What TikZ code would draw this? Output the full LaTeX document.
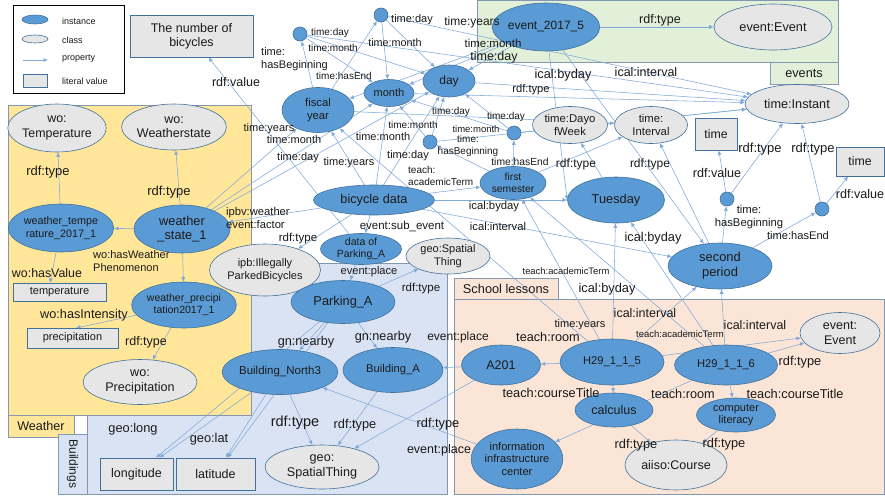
\documentclass[tikz,border=0pt]{standalone}
\usepackage{fontspec}
\setmainfont{Liberation Sans}
\usetikzlibrary{arrows.meta,shapes.geometric}
\definecolor{cInst}{HTML}{5B9BD5}
\definecolor{cInstB}{HTML}{41719C}
\definecolor{cCls}{HTML}{E7E6E6}
\definecolor{cEdge}{HTML}{7FA9DA}
\definecolor{cYel}{HTML}{FFE699}
\definecolor{cBlu}{HTML}{DAE3F3}
\definecolor{cPea}{HTML}{FBE5D6}
\definecolor{cGrn}{HTML}{E2F0D9}
\definecolor{cReg}{HTML}{8497B0}
\definecolor{cTxt}{HTML}{1A1A1A}
\newcommand{\fsz}[1]{\fontsize{#1}{#1}\selectfont\setlength{\baselineskip}{1.15\baselineskip}}
\pgfdeclarelayer{bg}
\pgfdeclarelayer{edges}
\pgfsetlayers{bg,edges,main}
\tikzset{
  inst/.style n args={3}{ellipse, draw=cInstB, fill=cInst, line width=0.6pt, minimum width=#1pt, minimum height=#2pt, inner sep=0pt, align=center, font=\fsz{#3}, text=cTxt},
  cls/.style n args={3}{ellipse, draw=cInstB, fill=cCls, line width=0.6pt, minimum width=#1pt, minimum height=#2pt, inner sep=0pt, align=center, font=\fsz{#3}, text=cTxt},
  lit/.style n args={3}{rectangle, draw=cInstB, fill=cCls, line width=0.6pt, minimum width=#1pt, minimum height=#2pt, inner sep=0pt, align=center, font=\fsz{#3}, text=cTxt},
  dot/.style={circle, draw=cInstB, fill=cInst, line width=0.6pt, minimum size=14pt, inner sep=0pt},
  lab/.style={font=\fsz{#1}, inner sep=0pt, align=center, text=cTxt},
  labl/.style={font=\fsz{#1}, inner sep=0pt, align=left, text=cTxt, anchor=west},
  ed/.style={draw=cEdge, line width=0.55pt, -{Latex[length=4.5pt,width=4pt]}},
  region/.style={draw=cReg, line width=0.8pt},
}
\begin{document}
\begin{tikzpicture}[x=1pt,y=-1pt]
\useasboundingbox (0,0) rectangle (885,498);
\begin{pgfonlayer}{bg}
\fill[white] (0,0) rectangle (885,498);
% regions
\draw[region, fill=cBlu] (87,263) rectangle (447,494);
\draw[region, fill=cYel] (8,105) rectangle (251,415);
\draw[region, fill=cYel] (8,415) rectangle (74,437);
\draw[region, fill=cBlu] (58,434) rectangle (87,494);
\draw[region, fill=cPea] (454,299) rectangle (884,494);
\draw[region, fill=cPea] (454,278) rectangle (558,299);
\draw[region, fill=cGrn] (477,0.5) rectangle (838,62);
\draw[region, fill=cGrn] (770,62) rectangle (838,84);
% legend box
\node[draw=black, line width=0.9pt, fill=white, minimum width=111pt, minimum height=88pt, inner sep=0pt] (legend) at (68.5,49) {};
\end{pgfonlayer}
\node[lab=12.6] (tWeather) at (41,426) {Weather};
\node[lab=12, rotate=-90] (tBuild) at (72.5,464) {Buildings};
\node[lab=12.8] (tSchool) at (506,288.5) {School lessons};
\node[lab=12.7] (tEvents) at (804,73) {events};
% legend
\node[inst={26}{9}{9}] (lgI) at (35,19.5) {};
\node[cls={26}{8}{9}] (lgC) at (35,39) {};
\coordinate (lgA1) at (23,60);
\coordinate (lgA2) at (48,60);
\node[lit={24}{13}{9}] (lgL) at (35,80.5) {};
\node[lab=9, anchor=west] (lgt1) at (62,21) {instance};
\node[lab=9, anchor=west] (lgt2) at (62,40) {class};
\node[lab=9, anchor=west] (lgt3) at (62,59) {property};
\node[lab=9, anchor=west] (lgt4) at (62,81) {literal value};
% nodes
\node[lit={123}{42}{12.5}] (nob) at (191.5,36) {The number of\\bicycles};
\node[cls={98}{48}{12.4}] (woT) at (57,128) {wo:\\Temperature};
\node[cls={94}{46}{12.5}] (woW) at (174,127) {wo:\\Weatherstate};
\node[inst={96}{48}{10.8}] (wt) at (61,228) {weather\_tempe\\rature\_2017\_1};
\node[inst={96}{48}{12.8}] (ws) at (182,229) {weather\\\_state\_1};
\node[lit={93}{18}{11}] (tmp) at (59.5,292) {temperature};
\coordinate (tmpT) at (50,283);
\node[inst={97}{46}{10.5}] (wp) at (184,305) {weather\_precipi\\tation2017\_1};
\node[lit={91}{20}{11}] (prc) at (72.5,338) {precipitation};
\coordinate (prcT) at (76,328);
\node[cls={114}{45}{12.6}] (woP) at (140,382) {wo:\\Precipitation};
\node[dot] (c1) at (300,34) {};
\node[dot] (c2) at (381,15) {};
\node[inst={72}{45}{11.3}] (fy) at (318,110) {fiscal\\year};
\node[inst={50}{27}{11}] (mo) at (389,93) {month};
\node[inst={52}{32}{12}] (dy) at (449,81) {day};
\node[inst={104}{48}{12}] (ev) at (546,27) {event\_2017\_5};
\node[cls={118}{46}{12.7}] (evE) at (773,27) {event:Event};
\node[cls={75}{37}{11.3}] (dow) at (570,125) {time:Dayo\\fWeek};
\node[cls={73}{37}{11.3}] (tiv) at (651,125) {time:\\Interval};
\node[cls={104}{39}{12.7}] (tin) at (797,104) {time:Instant};
\node[lit={42}{32}{12.3}] (tm1) at (716,134) {time};
\node[lit={48}{29}{12.3}] (tm2) at (860,161.5) {time};
\node[dot] (c3) at (430,142) {};
\node[dot] (c4) at (514,133) {};
\node[inst={66}{33}{10.3}] (fs) at (513,183) {first\\semester};
\node[inst={97}{46}{12.8}] (tue) at (616,200) {Tuesday};
\node[inst={121}{30}{12.7}] (bd) at (374,200) {bicycle data};
\node[inst={81}{31}{10.5}] (dpa) at (361,249) {data of\\Parking\_A};
\node[cls={111}{52}{11}] (ipb) at (265,270) {ipb:Illegally\\ParkedBicycles};
\node[cls={84}{36}{11}] (gsu) at (448,256) {geo:Spatial\\Thing};
\node[inst={104}{43}{12.8}] (pa) at (343,302) {Parking\_A};
\node[inst={104}{46}{12.9}] (sp) at (720,266) {second\\period};
\node[dot] (c5) at (727,199) {};
\node[dot] (c6) at (822,209) {};
\node[inst={103}{45}{11.5}] (bn3) at (280,372) {Building\_North3};
\node[inst={100}{45}{11.2}] (ba) at (393,370) {Building\_A};
\node[cls={114}{44}{12.6}] (gsl) at (322,467) {geo:\\SpatialThing};
\node[lit={73}{32}{12.5}] (lon) at (136.5,474) {longitude};
\node[lit={79}{32}{12.5}] (lat) at (215.5,474) {latitude};
\node[inst={79}{40}{12.5}] (a201) at (501,365) {A201};
\node[inst={104}{46}{11.2}] (h5) at (612,362) {H29\_1\_1\_5};
\node[inst={103}{40}{11.2}] (h6) at (726,365) {H29\_1\_1\_6};
\node[inst={78}{34}{12.5}] (cal) at (614,410) {calculus};
\node[inst={79}{34}{11}] (cl) at (736,415) {computer\\literacy};
\node[inst={86}{60}{11.1}] (iic) at (517,459) {information\\infrastructure\\center};
\node[cls={102}{50}{12.5}] (aii) at (676,465) {aiiso:Course};
\node[cls={80}{41}{12.5}] (evE2) at (840,333) {event:\\Event};
% edges
\begin{pgfonlayer}{edges}
\draw[ed] (lgA1) -- (lgA2);
\draw[ed] (wt) -- (woT);
\draw[ed] (ws) -- (woW);
\draw[ed] (ws) -- (wt);
\draw[ed] (ws) -- (wp);
\draw[ed] (wt) -- (tmpT);
\draw[ed] (wp) -- (prcT);
\draw[ed] (wp) -- (woP);
\draw[ed] (ws) -- (fy);
\draw[ed] (ws) -- (mo);
\draw[ed] (ws) -- (dy);
\draw[ed] (bd) -- (ws);
\draw[ed] (bd) -- (ipb);
\draw[ed] (bd) -- (dpa);
\draw[ed] (dpa) -- (pa);
\draw[ed] (pa) -- (gsu);
\draw[ed] (dpa) -- (nob);
\draw[ed] (bd) -- (fy);
\draw[ed] (bd) -- (mo);
\draw[ed] (bd) -- (dy);
\draw[ed] (bd) -- (fs);
\draw[ed] (bd) -- (tue);
\draw[ed] (bd) -- (sp);
\draw[ed] (fy) -- (c1);
\draw[ed] (fy) -- (c2);
\draw[ed] (fy) -- (tiv);
\draw[ed] (c1) -- (mo);
\draw[ed] (c1) -- (dy);
\draw[ed] (c1) -- (tin);
\draw[ed] (c2) -- (mo);
\draw[ed] (c2) -- (dy);
\draw[ed] (c2) -- (tin);
\draw[ed] (fs) -- (c3);
\draw[ed] (fs) -- (c4);
\draw[ed] (c3) -- (mo);
\draw[ed] (c3) -- (dy);
\draw[ed] (c3) -- (tin);
\draw[ed] (c4) -- (mo);
\draw[ed] (c4) -- (dy);
\draw[ed] (c4) -- (tin);
\draw[ed] (dy) -- (tin);
\draw[ed] (mo) -- (tin);
\draw[ed] (ev) -- (fy);
\draw[ed] (ev) -- (mo);
\draw[ed] (ev) -- (dy);
\draw[ed] (ev) -- (evE);
\draw[ed] (ev) -- (tue.west);
\draw[ed] (ev) -- (sp);
\draw[ed] (tue) -- (dow);
\draw[ed] (fs) -- (tiv);
\draw[ed] (sp) -- (tiv);
\draw[ed] (sp) -- (c5);
\draw[ed] (sp) -- (c6);
\draw[ed] (c5) -- (tm1);
\draw[ed] (c6) -- (tm2);
\draw[ed] (c5) -- (tin);
\draw[ed] (c6) -- (tin);
\draw[ed] (pa) -- (bn3);
\draw[ed] (pa) -- (ba);
\draw[ed] (bn3) -- (gsl);
\draw[ed] (ba) -- (gsl);
\draw[ed] (pa) -- (lon);
\draw[ed] (pa) -- (lat);
\draw[ed] (bn3) -- (lon);
\draw[ed] (bn3) -- (lat);
\draw[ed] (iic) -- (bn3);
\draw[ed] (a201) -- (gsl);
\draw[ed] (a201) -- (ba);
\draw[ed] (h5) -- (a201);
\draw[ed] (h5) -- (cal);
\draw[ed] (h5) -- (tue);
\draw[ed] (h5) -- (sp);
\draw[ed] (h5) -- (fs);
\draw[ed] (h5) -- (fy);
\draw[ed] (h5) -- (evE2);
\draw[ed] (h6) -- (cl);
\draw[ed] (h6) -- (iic);
\draw[ed] (h6) -- (evE2);
\draw[ed] (h6) -- (sp);
\draw[ed] (h6) -- (fs);
\draw[ed] (h6) -- (tue);
\draw[ed] (cal) -- (aii);
\draw[ed] (cl) -- (aii);
\end{pgfonlayer}
% labels
\node[lab=13] (L1) at (48,172) {rdf:type};
\node[lab=13] (L2) at (169,192) {rdf:type};
\node[labl=11] (L3) at (93,261) {wo:hasWeather\\Phenomenon};
\node[lab=12.4] (L4) at (47,273) {wo:hasValue};
\node[lab=12.7] (L5) at (84,315) {wo:hasIntensity};
\node[lab=12.5] (L6) at (146,342) {rdf:type};
\node[lab=12.5] (L7) at (236,82) {rdf:value};
\node[labl=11] (L8) at (261,59) {time:\\hasBeginning};
\node[lab=10] (L9) at (333,48) {time:month};
\node[lab=10] (L10) at (344,76) {time:hasEnd};
\node[lab=10] (L11) at (330,33) {time:day};
\node[lab=11] (L12) at (412,20) {time:day};
\node[lab=10.8] (L13) at (395,43) {time:month};
\node[lab=12] (L14) at (472,22) {time:years};
\node[lab=11.5] (L15) at (493,43) {time:month};
\node[lab=12.5] (L16) at (494,57) {time:day};
\node[lab=12.5] (L17) at (660,20) {rdf:type};
\node[lab=12.8] (L18) at (563,75) {ical:byday};
\node[lab=12.5] (L19) at (646,72) {ical:interval};
\node[lab=11.2] (L20) at (531,90) {rdf:type};
\node[lab=10] (L21) at (451,112) {time:day};
\node[lab=10] (L22) at (506,117) {time:day};
\node[lab=10] (L23) at (413,125) {time:month};
\node[lab=9.5] (L24) at (476,129) {time:month};
\node[lab=10] (L25) at (468,146) {time:\\hasBeginning};
\node[lab=10.3] (L26) at (520,162) {time:hasEnd};
\node[lab=12] (L27) at (576,164) {rdf:type};
\node[lab=12] (L28) at (650,164) {rdf:type};
\node[lab=11] (L29) at (269,129) {time:years};
\node[lab=11] (L30) at (294,140) {time:month};
\node[lab=11] (L31) at (298,158) {time:day};
\node[lab=11] (L32) at (349,163) {time:years};
\node[lab=11] (L33) at (383,137) {time:month};
\node[lab=11] (L34) at (408,156) {time:day};
\node[labl=10] (L35) at (408,176) {teach:\\academicTerm};
\node[labl=11.2] (L36) at (226,218) {ipbv:weather\\event:factor};
\node[lab=11.5] (L37) at (298,239) {rdf:type};
\node[lab=11.5] (L38) at (402,226) {event:sub\_event};
\node[lab=11.1] (L39) at (369,272) {event:place};
\node[lab=11.5] (L40) at (421,289) {rdf:type};
\node[lab=11.3] (L41) at (494,207) {ical:byday};
\node[lab=11.2] (L42) at (498,226) {ical:interval};
\node[lab=9.4] (L43) at (566,271) {teach:academicTerm};
\node[lab=12.8] (L44) at (607,289) {ical:byday};
\node[lab=12.8] (L45) at (653,238) {ical:byday};
\node[lab=12.5] (L46) at (645,313) {ical:interval};
\node[lab=11] (L47) at (580,325) {time:years};
\node[lab=12.6] (L48) at (717,173) {rdf:value};
\node[lab=11.3] (L49) at (749,217) {time:\\hasBeginning};
\node[lab=11.1] (L50) at (798,236) {time:hasEnd};
\node[lab=12.6] (L51) at (860,194) {rdf:value};
\node[lab=13] (L52) at (760,149) {rdf:type};
\node[lab=13] (L53) at (813,149) {rdf:type};
\node[lab=12.5] (L54) at (755,325) {ical:interval};
\node[lab=9.5] (L55) at (680,334) {teach:academicTerm};
\node[lab=12.7] (L56) at (548,337) {teach:room};
\node[lab=12] (L57) at (458,337) {event:place};
\node[lab=12.7] (L58) at (306,342) {gn:nearby};
\node[lab=12.7] (L59) at (383,337) {gn:nearby};
\node[lab=12.8] (L60) at (551,393) {teach:courseTitle};
\node[lab=12.8] (L61) at (795,394) {teach:courseTitle};
\node[lab=12.7] (L62) at (683,394) {teach:room};
\node[lab=12.8] (L63) at (800,362) {rdf:type};
\node[lab=12.8] (L64) at (724,444) {rdf:type};
\node[lab=12.8] (L65) at (636,445) {rdf:type};
\node[lab=14.5] (L66) at (295,423) {rdf:type};
\node[lab=12.8] (L67) at (355,425) {rdf:type};
\node[lab=12.8] (L68) at (438,424) {rdf:type};
\node[lab=12.5] (L69) at (439,450) {event:place};
\node[lab=12.8] (L70) at (133,429) {geo:long};
\node[lab=12.8] (L71) at (209,439) {geo:lat};
\end{tikzpicture}
\end{document}
